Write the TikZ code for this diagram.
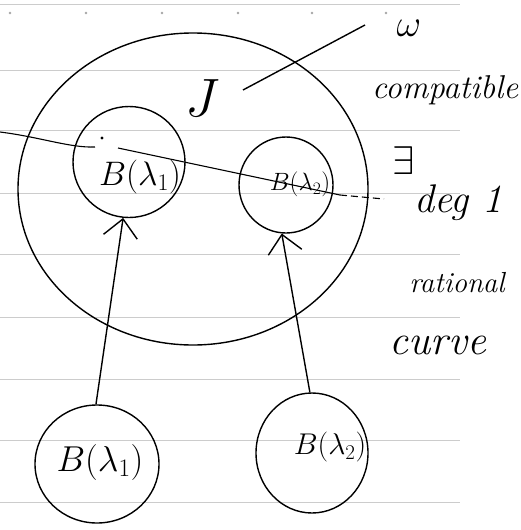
\RequirePackage{fix-cm}
\documentclass[tikz,border=0pt]{standalone}
\usetikzlibrary{shapes.geometric,arrows.meta}
\begin{document}
\begin{tikzpicture}[x=1pt,y=-1pt,
  rule/.style={gray!40,line width=0.9pt},
  ink/.style={black,line width=1.4pt},
  blob/.style={ellipse,draw,ink,inner sep=0pt},
  hand/.style={inner sep=0pt,font=\itshape},
  arr/.style={ink,-{Straight Barb[length=18pt,width=34pt,line width=1.4pt]}}]
\useasboundingbox (0,0) rectangle (521,530);
\fill[white] (0,0) rectangle (521,530);
% ruled paper
\foreach \y in {4,70,130,193,254,317,379,440,502}
  \draw[rule] (0,\y) -- (460,\y);
\foreach \x in {10,86,162,238,312,386}
  \fill[gray!70] (\x,13) circle (1.4pt);
% big region J
\node[blob,minimum width=350pt,minimum height=312pt] (J) at (193,189) {};
\node[inner sep=0pt,font=\fontsize{54}{60}\selectfont] (Jl) at (203,98) {$J$};
% inner balls
\node[blob,minimum width=112pt,minimum height=111pt] (B1) at (129,162) {};
\node[inner sep=0pt,font=\fontsize{34}{38}\selectfont] (B1t) at (140,177) {$B(\lambda_1)$};
\node[blob,minimum width=94pt,minimum height=96pt] (B2) at (286,185) {};
\node[inner sep=0pt,font=\fontsize{25}{28}\selectfont] (B2t) at (300,184) {$B(\lambda_2)$};
% lower balls
\node[blob,minimum width=124pt,minimum height=118pt] (C1) at (97,464) {};
\node[inner sep=0pt,font=\fontsize{36}{40}\selectfont] (C1t) at (100,462) {$B(\lambda_1)$};
\node[blob,minimum width=112pt,minimum height=120pt] (C2) at (312,453) {};
\node[inner sep=0pt,font=\fontsize{30}{34}\selectfont] (C2t) at (330,447) {$B(\lambda_2)$};
% arrows
\draw[arr] (C1.91) -- (B1.-96);
\draw[arr] (C2.92) -- (B2.-95);
% omega-compatible
\node[inner sep=0pt,font=\fontsize{38}{42}\selectfont] (om) at (409,28) {$\omega$};
\coordinate (jp) at (243,90);
\coordinate (op) at (365,25);
\draw[ink] (jp) -- (op);
\node[hand,anchor=west,font=\itshape\fontsize{33}{38}\selectfont] (comp) at (372,90) {compatible};
% rational curve through the balls
\coordinate (c0) at (0,132);
\coordinate (c1) at (95,147);
\coordinate (c2) at (118,148);
\coordinate (c3) at (340,195);
\coordinate (c4) at (384,199);
\draw[ink,line width=1.1pt] (c0) .. controls (40,137) and (70,148) .. (c1);
\fill (102,138) circle (1.6pt);
\draw[ink,line width=1.1pt] (c2) -- (c3);
\draw[ink,line width=1.1pt,dash pattern=on 7pt off 4pt] (c3) -- (c4);
% annotations
\node[inner sep=0pt,font=\fontsize{40}{44}\selectfont] (ex) at (404,161) {$\exists$};
\node[hand,font=\itshape\fontsize{40}{44}\selectfont] (deg) at (458,203) {deg 1};
\node[hand,font=\itshape\fontsize{29}{32}\selectfont] (rat) at (457,283) {rational};
\node[hand,font=\itshape\fontsize{42}{46}\selectfont] (cur) at (438,345) {curve};
\end{tikzpicture}
\end{document}
